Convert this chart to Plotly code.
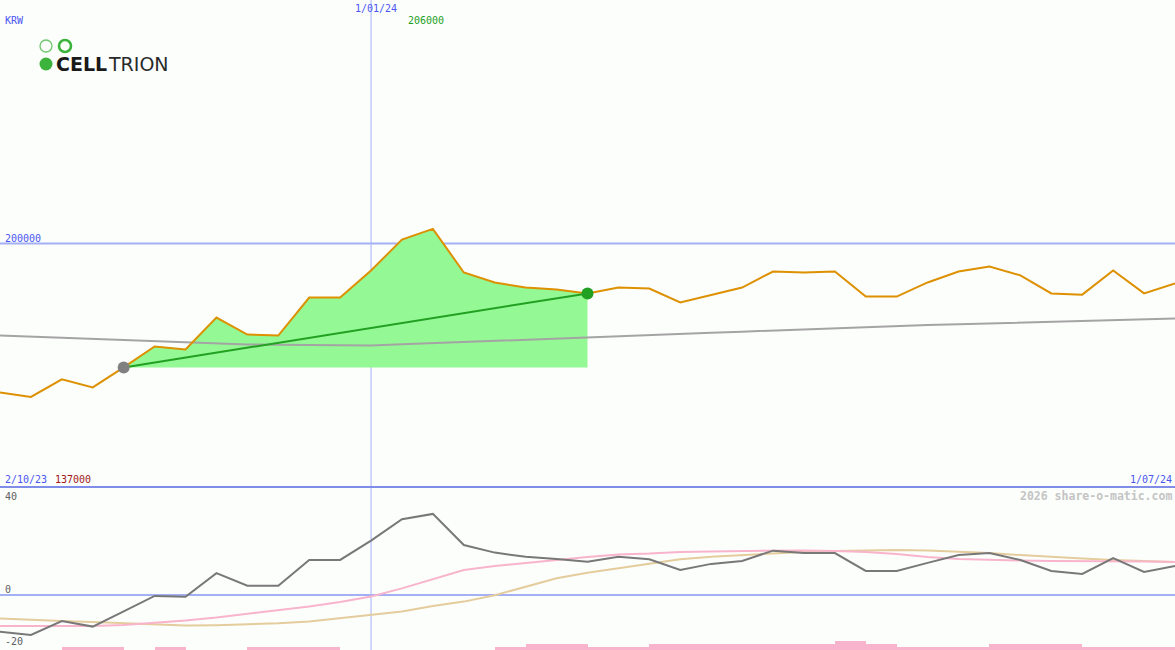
import plotly.graph_objects as go

# ---- data (weekly points, index 0 = 2/10/23) ----
weeks = list(range(39))
price = [138800, 137000, 144200, 140900, 149100, 157700, 156500, 169600, 162600, 162200,
         177800, 177800, 188900, 201600, 206000, 188100, 184000, 181900, 181100, 179500,
         181900, 181500, 175800, 179000, 181900, 188500, 188100, 188500, 178200, 178200,
         184000, 188500, 190500, 186900, 179500, 179000, 188900, 179500, 183600]
long_ma = [162200, 161700, 161200, 160700, 160200, 159800, 159300, 158900, 158500, 158400,
           158300, 158200, 158100, 158600, 159100, 159500, 160000, 160500, 160900, 161400,
           161900, 162400, 162800, 163300, 163800, 164300, 164800, 165200, 165700, 166100,
           166500, 166800, 167100, 167500, 167800, 168200, 168500, 168900, 169200]
osc = [-15.0, -16.3, -10.6, -12.9, -6.7, -0.4, -0.7, 8.9, 3.8, 3.8,
       14.3, 14.3, 22.2, 30.9, 33.1, 20.4, 17.3, 15.6, 14.7, 13.6,
       15.6, 14.6, 10.2, 12.7, 13.9, 18.1, 17.1, 17.1, 9.8, 9.8,
       13.1, 16.3, 17.1, 14.3, 9.8, 8.6, 15.1, 9.4, 11.8]
osc_fast = [-12.7, -12.7, -12.7, -12.7, -12.2, -11.4, -10.4, -9.2, -7.8, -6.3,
            -4.7, -2.9, -0.6, 2.7, 6.3, 10.2, 11.8, 12.9, 14.3, 15.5,
            16.5, 16.9, 17.6, 17.8, 18.0, 18.2, 18.2, 18.0, 17.6, 16.7,
            15.5, 14.7, 14.3, 14.1, 13.9, 13.9, 13.9, 13.7, 13.5]
osc_slow = [-9.6, -10.2, -10.6, -11.0, -11.6, -12.0, -12.5, -12.3, -12.0, -11.5,
            -10.8, -9.4, -8.0, -6.7, -4.5, -2.7, -0.1, 3.4, 6.8, 9.1,
            11.0, 12.9, 14.6, 15.6, 16.3, 17.0, 17.6, 18.0, 18.2, 18.4,
            18.2, 17.8, 17.1, 16.3, 15.5, 14.9, 14.3, 13.9, 13.5]
# histogram per weekly interval (interval i spans week i .. i+1)
bar_vals = [0, 0, 1.3, 1.3, 0, 1.3, 0, 0, 1.3, 1.3,
            1.3, 0, 0, 0, 0, 0, 1.3, 2.5, 2.5, 1.3,
            1.3, 2.5, 2.5, 2.5, 2.5, 2.5, 2.5, 3.7, 2.5, 1.3,
            1.3, 1.3, 2.5, 2.5, 2.5, 1.3, 1.3, 1.3]
trend_start, trend_end = 4, 19
year_mark = 12
label_start, label_mid, label_end = "2/10/23", "1/01/24", "1/07/24"
price_hi, price_lo, price_ref = "206000", "137000", 200000

W, H = 1175, 650
split = 487
y_main = [100000, 300000]
y_low = [-22.45, 44.08]
bg = "#fcfefc"

fig = go.Figure()

# green area between start price and price line
seg_x = weeks[trend_start:trend_end + 1]
seg_y = price[trend_start:trend_end + 1]
fig.add_trace(go.Scatter(x=seg_x, y=[price[trend_start]] * len(seg_x), mode="lines",
                         line=dict(width=0, color="rgba(0,0,0,0)"), xaxis="x", yaxis="y",
                         hoverinfo="skip", showlegend=False))
fig.add_trace(go.Scatter(x=seg_x, y=seg_y, mode="lines", fill="tonexty",
                         fillcolor="#94f894", line=dict(width=0, color="rgba(0,0,0,0)"),
                         xaxis="x", yaxis="y", hoverinfo="skip", showlegend=False))
# long moving average
fig.add_trace(go.Scatter(x=weeks, y=long_ma, mode="lines", line=dict(color="#a4a4a4", width=2),
                         xaxis="x", yaxis="y", hoverinfo="skip", showlegend=False))
# price
fig.add_trace(go.Scatter(x=weeks, y=price, mode="lines", line=dict(color="#dd9000", width=2),
                         xaxis="x", yaxis="y", hoverinfo="skip", showlegend=False))
# trend line
fig.add_trace(go.Scatter(x=[trend_start, trend_end], y=[price[trend_start], price[trend_end]],
                         mode="lines", line=dict(color="#22a022", width=2),
                         xaxis="x", yaxis="y", hoverinfo="skip", showlegend=False))
fig.add_trace(go.Scatter(x=[trend_start], y=[price[trend_start]], mode="markers",
                         marker=dict(color="#808080", size=12, line=dict(width=0)),
                         xaxis="x", yaxis="y", hoverinfo="skip", showlegend=False))
fig.add_trace(go.Scatter(x=[trend_end], y=[price[trend_end]], mode="markers",
                         marker=dict(color="#22a022", size=12, line=dict(width=0)),
                         xaxis="x", yaxis="y", hoverinfo="skip", showlegend=False))

# lower panel
fig.add_trace(go.Bar(x=[i + 0.5 for i in range(len(bar_vals))], y=bar_vals, base=y_low[0],
                     width=1, marker=dict(color="#f8b4cc", line=dict(width=0)),
                     xaxis="x2", yaxis="y2", hoverinfo="skip", showlegend=False))
fig.add_trace(go.Scatter(x=weeks, y=osc_slow, mode="lines", line=dict(color="#e4cc9c", width=2),
                         xaxis="x2", yaxis="y2", hoverinfo="skip", showlegend=False))
fig.add_trace(go.Scatter(x=weeks, y=osc_fast, mode="lines", line=dict(color="#f8b4cc", width=2),
                         xaxis="x2", yaxis="y2", hoverinfo="skip", showlegend=False))
fig.add_trace(go.Scatter(x=weeks, y=osc, mode="lines", line=dict(color="#787878", width=2),
                         xaxis="x2", yaxis="y2", hoverinfo="skip", showlegend=False))

dom_split = 1 - split / H
axis_common = dict(showgrid=False, zeroline=False, showticklabels=False, ticks="",
                   showline=False, fixedrange=True)
fig.update_layout(
    width=W, height=H, margin=dict(l=0, r=0, t=0, b=0),
    paper_bgcolor=bg, plot_bgcolor=bg, bargap=0, showlegend=False,
    xaxis=dict(domain=[0, 1], range=[0, 38], anchor="y", **axis_common),
    yaxis=dict(domain=[dom_split, 1], range=y_main, anchor="x", **axis_common),
    xaxis2=dict(domain=[0, 1], range=[0, 38], anchor="y2", **axis_common),
    yaxis2=dict(domain=[0, dom_split], range=y_low, anchor="x2", **axis_common),
)

shapes = [
    # 200000 reference line
    dict(type="line", xref="paper", x0=0, x1=1, yref="y", y0=price_ref, y1=price_ref,
         line=dict(color="#a4b0f4", width=2), layer="below"),
    # zero line lower panel
    dict(type="line", xref="paper", x0=0, x1=1, yref="y2", y0=0, y1=0,
         line=dict(color="#a4b0f4", width=2), layer="below"),
    # year marker
    dict(type="line", xref="x", x0=year_mark, x1=year_mark, yref="paper", y0=0, y1=1,
         line=dict(color="#a8b0f8", width=1), layer="below"),
    # panel separator
    dict(type="line", xref="paper", x0=0, x1=1, yref="paper", y0=dom_split, y1=dom_split,
         line=dict(color="#7f8ce8", width=2), layer="above"),
]


def px(x):
    return x / W


def py(y):
    return 1 - y / H


# logo circles
shapes += [
    dict(type="circle", xref="paper", yref="paper", x0=px(40), x1=px(52), y0=py(52), y1=py(40),
         line=dict(color="#6cc86c", width=1.3), fillcolor="rgba(0,0,0,0)"),
    dict(type="circle", xref="paper", yref="paper", x0=px(59), x1=px(71), y0=py(52), y1=py(40),
         line=dict(color="#3cb43c", width=2.6), fillcolor="rgba(0,0,0,0)"),
    dict(type="circle", xref="paper", yref="paper", x0=px(39.5), x1=px(52.5), y0=py(70.5), y1=py(57.5),
         line=dict(color="#3cb43c", width=0), fillcolor="#3cb43c"),
]
fig.update_layout(shapes=shapes)

mono = "DejaVu Sans Mono"
blue = "#4a56f0"


def ann(text, x, y, color, size=10, anchor="left", family=mono, bold=False):
    t = f"<b>{text}</b>" if bold else text
    fig.add_annotation(text=t, xref="paper", yref="paper", x=px(x), y=py(y),
                       xanchor=anchor, yanchor="middle", showarrow=False,
                       font=dict(family=family, size=size, color=color), borderpad=0)


ann("KRW", 4, 20, blue)
ann(label_mid, 354, 9, blue)
ann(price_hi, 407, 21, "#22a022")
ann(str(price_ref), 4, 238, blue)
ann(label_start, 4, 479, blue)
ann(price_lo, 54, 479, "#a01818")
ann(label_end, 1173, 479, blue, anchor="right")
ann("2026 share-o-matic.com", 1173, 496, "#c4c4c4", size=11.5, anchor="right", bold=True)
ann("40", 4, 496, "#606060")
ann("0", 4, 589, "#606060")
ann("-20", 4, 641, "#606060")
# logo text
ann("CELL", 55, 64, "#1a1a1a", size=19, family="DejaVu Sans", bold=True)
ann("TRION", 107, 64, "#2a2a2a", size=19, family="DejaVu Sans ExtraLight, DejaVu Sans")

fig.write_html("out.html", config={"displayModeBar": False},
               post_script="document.body.style.margin='0';document.body.style.padding='0';"
                           "document.documentElement.style.overflow='hidden';")
